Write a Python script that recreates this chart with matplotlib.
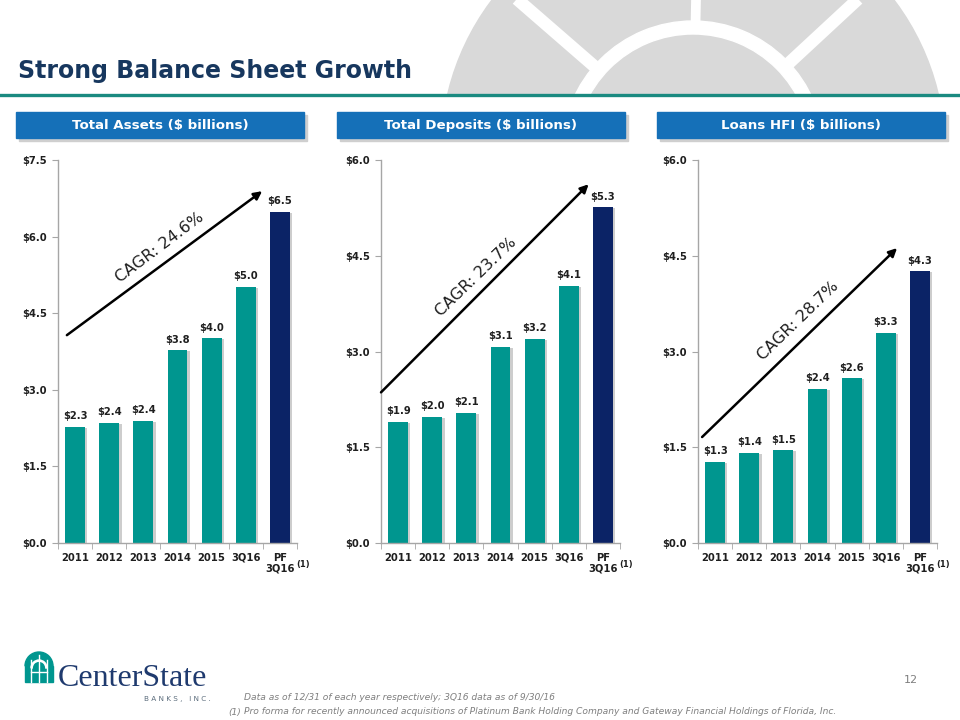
import numpy as np
import matplotlib
matplotlib.use("Agg")
import matplotlib.pyplot as plt
from matplotlib.patches import Rectangle, Circle, Wedge
import matplotlib.transforms as mtransforms

# ---------------- data ----------------
categories = ["2011", "2012", "2013", "2014", "2015", "3Q16", "PF\n3Q16"]
assets = [2.28, 2.35, 2.39, 3.77, 4.01, 5.02, 6.49]
deposits = [1.90, 1.98, 2.04, 3.07, 3.20, 4.03, 5.26]
loans = [1.27, 1.41, 1.45, 2.42, 2.58, 3.29, 4.26]
asset_labels = ["$2.3", "$2.4", "$2.4", "$3.8", "$4.0", "$5.0", "$6.5"]
deposit_labels = ["$1.9", "$2.0", "$2.1", "$3.1", "$3.2", "$4.1", "$5.3"]
loan_labels = ["$1.3", "$1.4", "$1.5", "$2.4", "$2.6", "$3.3", "$4.3"]
assets_ticks = [0.0, 1.5, 3.0, 4.5, 6.0, 7.5]
other_ticks = [0.0, 1.5, 3.0, 4.5, 6.0]
panel_titles = ["Total Assets ($ billions)", "Total Deposits ($ billions)", "Loans HFI ($ billions)"]
cagr_texts = ["CAGR: 24.6%", "CAGR: 23.7%", "CAGR: 28.7%"]

TEAL = "#00968F"
NAVY = "#0B2366"
TXT = "#1F1F1F"

fig = plt.figure(figsize=(9.6, 7.2), dpi=100)
W, H = 960, 720

# ---------------- background / decorations ----------------
bg = fig.add_axes([0, 0, 1, 1], zorder=0)
bg.set_xlim(0, W)
bg.set_ylim(H, 0)
bg.axis("off")

clip = Rectangle((0, 0), W, 94, transform=bg.transData)
cx, cy = 693, 152
dome = Circle((cx, cy), 252, color="#D9D9D9", zorder=1)
bg.add_patch(dome)
dome.set_clip_path(clip)
ring = Wedge((cx, cy), 131, 0, 360, width=13, color="white", zorder=2)
bg.add_patch(ring)
ring.set_clip_path(clip)
for vx, vy, lw in [(-175, -152, 9.0), (164, -152, 9.0), (3, -152, 7.0)]:
    n = np.hypot(vx, vy)
    ux, uy = vx / n, vy / n
    ln, = bg.plot([cx + 128 * ux, cx + 320 * ux], [cy + 128 * uy, cy + 320 * uy],
                  color="white", lw=lw, solid_capstyle="butt", zorder=3)
    ln.set_clip_path(clip)

bg.plot([0, W], [95, 95], color="#1A8A80", lw=2.4, zorder=4)

bg.text(18, 78, "Strong Balance Sheet Growth", fontsize=17, fontweight="bold",
        color="#17375E", va="baseline", ha="left", zorder=5)

box_x = [16, 337, 657]
for bx, t in zip(box_x, panel_titles):
    bg.add_patch(Rectangle((bx + 3, 115), 288, 26, color="#CFCFCF", zorder=4))
    bg.add_patch(Rectangle((bx, 112), 288, 26, color="#1570B8", zorder=5))
    bg.text(bx + 144, 125.5, t, color="white", fontsize=9.6, fontweight="bold",
            ha="center", va="center", zorder=6)

# footer logo
bg.add_patch(Rectangle((25, 666), 28, 16, color="#00968F", zorder=2))
bg.add_patch(Wedge((39, 666), 14, 180, 360, color="#00968F", zorder=2))
for xx in [31, 39, 47]:
    bg.plot([xx, xx], [655 if xx == 39 else 660, 682], color="white", lw=1.0, zorder=3)
bg.add_patch(Wedge((39, 668), 8, 180, 360, width=1.2, color="white", zorder=3))
bg.plot([31, 47], [672, 672], color="white", lw=1.0, zorder=3)
bg.text(58, 686, "CenterState", family="Liberation Serif", fontsize=23,
        color="#1F3A6E", ha="left", va="baseline", zorder=3)
bg.text(211, 699, "B A N K S ,   I N C .", fontsize=5.2, color="#5A6B7B",
        ha="right", va="center", zorder=3)

bg.text(244, 697, "Data as of 12/31 of each year respectively; 3Q16 data as of 9/30/16",
        fontsize=6.6, style="italic", color="#7F7F7F", ha="left", va="center")
bg.text(228, 712, "(1)", fontsize=6.6, style="italic", color="#7F7F7F", ha="left", va="center")
bg.text(244, 712, "Pro forma for recently announced acquisitions of Platinum Bank Holding Company and Gateway Financial Holdings of Florida, Inc.",
        fontsize=6.6, style="italic", color="#7F7F7F", ha="left", va="center")
bg.text(911, 680, "12", fontsize=8, color="#7F7F7F", ha="center", va="center")

# ---------------- charts ----------------
panels = [
    dict(left=58, vals=assets, labels=asset_labels, ymax=7.5, ticks=assets_ticks,
         arrow=((-0.24, 4.07), (5.48, 6.89)), txt=(2.49, 5.78), rot=37),
    dict(left=381, vals=deposits, labels=deposit_labels, ymax=6.0, ticks=other_ticks,
         arrow=((-0.50, 2.36), (5.58, 5.62)), txt=(2.28, 4.17), rot=44),
    dict(left=698, vals=loans, labels=loan_labels, ymax=6.0, ticks=other_ticks,
         arrow=((-0.38, 1.66), (5.33, 4.62)), txt=(2.44, 3.48), rot=44),
]

ax_top, ax_bot, ax_w = 160, 543, 239
x = np.arange(len(categories))
colors = [TEAL] * (len(categories) - 1) + [NAVY]

for p, cagr in zip(panels, cagr_texts):
    ax = fig.add_axes([p["left"] / W, (H - ax_bot) / H, ax_w / W, (ax_bot - ax_top) / H], zorder=2)
    ax.set_facecolor("none")
    shadow_tr = ax.transData + mtransforms.ScaledTranslation(2.5 / 100, -1.0 / 100, fig.dpi_scale_trans)
    ax.bar(x, p["vals"], width=0.58, color="#CDCDCD", transform=shadow_tr, zorder=1)
    ax.bar(x, p["vals"], width=0.58, color=colors, zorder=2)
    for xi, v, lab in zip(x, p["vals"], p["labels"]):
        ax.annotate(lab, (xi, v), xytext=(0, 4), textcoords="offset points",
                    ha="center", va="bottom", fontsize=7.2, fontweight="bold", color=TXT)
    ax.set_xlim(-0.5, 6.5)
    ax.set_ylim(0, p["ymax"])
    ax.set_yticks(p["ticks"])
    ax.set_yticklabels([f"${t:.1f}" for t in p["ticks"]], fontsize=7.2, fontweight="bold", color=TXT)
    ax.set_xticks(x)
    ax.set_xticklabels(categories, fontsize=7.2, fontweight="bold", color=TXT, linespacing=1.05)
    ax.set_xticks(np.arange(-0.5, 7, 1.0), minor=True)
    ax.tick_params(axis="x", which="major", length=0, pad=7)
    ax.tick_params(axis="x", which="minor", length=4, color="#A6A6A6", direction="out")
    ax.tick_params(axis="y", length=4, color="#A6A6A6", direction="out", pad=4)
    for s in ["top", "right"]:
        ax.spines[s].set_visible(False)
    for s in ["left", "bottom"]:
        ax.spines[s].set_color("#A6A6A6")
        ax.spines[s].set_linewidth(1.0)
    ax.text(6.48, -0.055, "(1)", transform=mtransforms.blended_transform_factory(ax.transData, ax.transAxes),
            fontsize=6, fontweight="bold", color=TXT, ha="left", va="center", clip_on=False)
    (x0, y0), (x1, y1) = p["arrow"]
    ax.annotate("", xy=(x1, y1), xytext=(x0, y0),
                arrowprops=dict(arrowstyle="-|>", color="black", lw=1.8, mutation_scale=12,
                                shrinkA=0, shrinkB=0), annotation_clip=False)
    ax.text(p["txt"][0], p["txt"][1], cagr, rotation=p["rot"], rotation_mode="anchor",
            ha="center", va="center", fontsize=11.5, color=TXT)

fig.savefig("out.png", dpi=100)
